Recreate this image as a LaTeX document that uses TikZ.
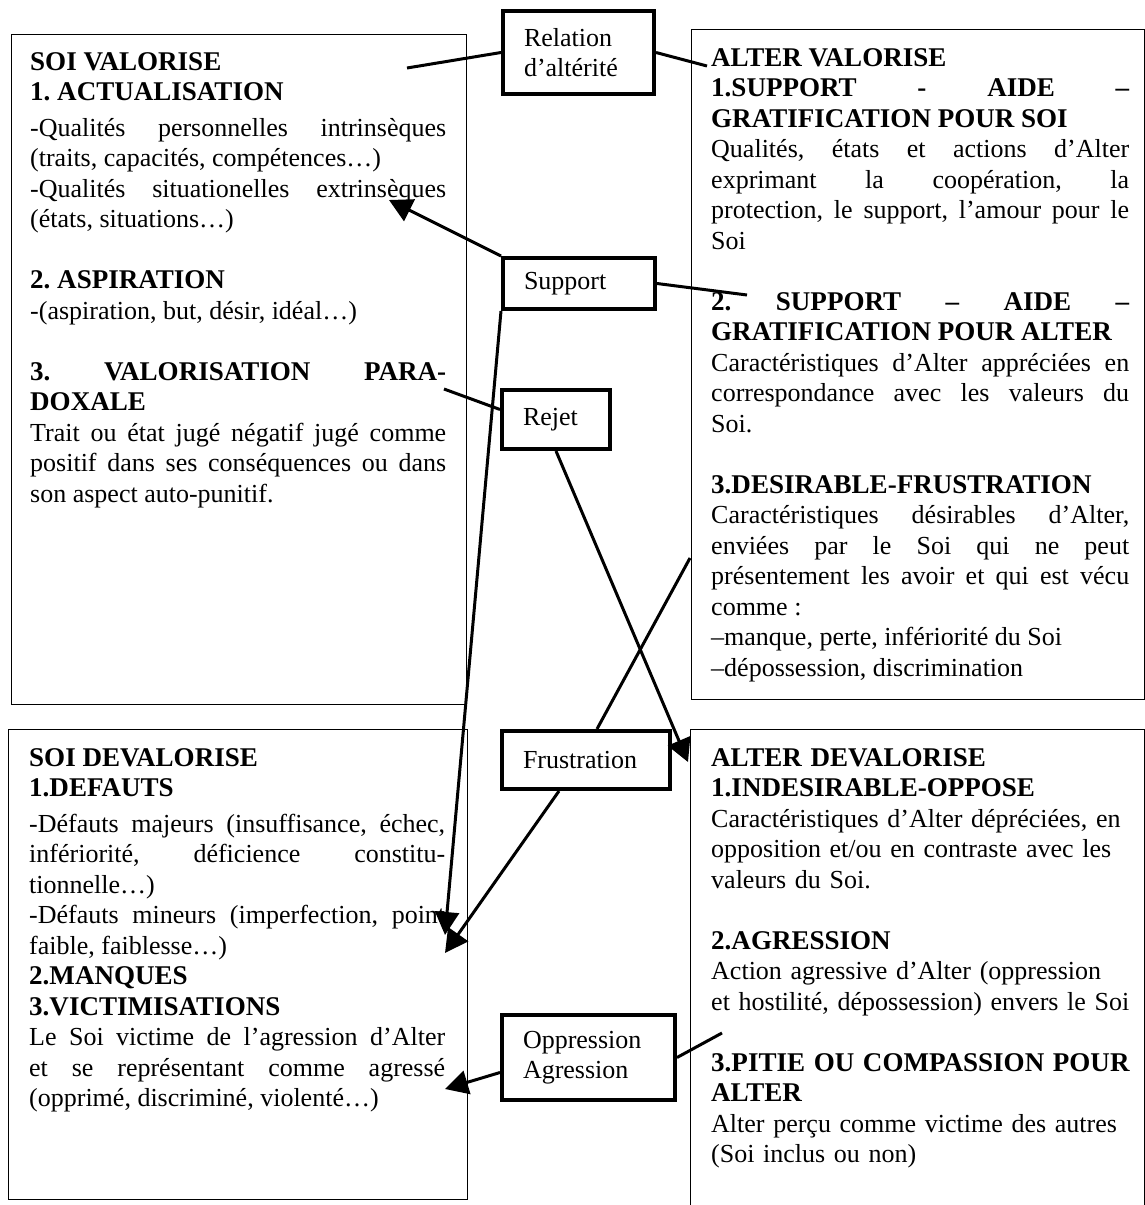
\documentclass[tikz,border=0pt]{standalone}
\usepackage{fontspec}
\setmainfont{Liberation Serif}[BoldFont={Liberation Serif Bold},BoldFeatures={Scale=1.04}]
\usepackage{tikz}
\usetikzlibrary{arrows.meta,calc}
\hyphenpenalty=10000
\exhyphenpenalty=10000
\tolerance=10000
\hbadness=10000
\frenchspacing

\begin{document}
\begin{tikzpicture}[x=1pt,y=-1pt,
  every node/.style={font=\fontsize{26}{30.5}\selectfont},
  frame/.style={draw,line width=1.3pt,inner sep=0pt,anchor=north west},
  txt/.style={anchor=base west,inner sep=0pt,align=justify},
  relbox/.style={draw,line width=4pt,anchor=north west,inner xsep=21pt,inner ysep=0pt,align=left},
  link/.style={line width=3pt},
  tip/.style={line width=3pt,-{Triangle[length=23pt,width=24pt]}}]
\useasboundingbox (0,0) rectangle (1144,1205);

\node[frame,minimum width=455pt,minimum height=670pt] (soival) at (11,34) {};
\node[frame,minimum width=453pt,minimum height=670pt] (altval) at (691,29) {};
\node[frame,minimum width=459pt,minimum height=470pt] (soidev) at (8,729) {};
\node[frame,minimum width=454pt,minimum height=500pt] (altdev) at (690,729) {};

\node[txt,text width=416pt] (soivaltxt) at (30,70) {%
\textbf{SOI VALORISE}\par
\textbf{1. ACTUALISATION}\par\vspace{5pt}
-Qualités personnelles intrinsèques\linebreak
(traits, capacités, compétences…)\par
-Qualités situationelles extrinsèques\linebreak
(états, situations…)\par
\vspace{\baselineskip}
\textbf{2. ASPIRATION}\par
-(aspiration, but, désir, idéal…)\par
\vspace{\baselineskip}
\textbf{3. VALORISATION PARA-}\linebreak
\textbf{DOXALE}\par
Trait ou état jugé négatif jugé comme\linebreak
positif dans ses conséquences ou dans\linebreak
son aspect auto-punitif.};

\node[txt,text width=418pt] (altvaltxt) at (711,66) {%
\textbf{ALTER VALORISE}\par
\textbf{1.SUPPORT - AIDE –}\linebreak
\textbf{GRATIFICATION POUR SOI}\par
Qualités, états et actions d’Alter\linebreak
exprimant la coopération, la\linebreak
protection, le support, l’amour pour le\linebreak
Soi\par
\vspace{\baselineskip}
\textbf{2. SUPPORT – AIDE –}\linebreak
\textbf{GRATIFICATION POUR ALTER}\par
Caractéristiques d’Alter appréciées en\linebreak
correspondance avec les valeurs du\linebreak
Soi.\par
\vspace{\baselineskip}
\textbf{3.DESIRABLE-FRUSTRATION}\par
Caractéristiques désirables d’Alter,\linebreak
enviées par le Soi qui ne peut\linebreak
présentement les avoir et qui est vécu\linebreak
comme~:\par
–manque, perte, infériorité du Soi\par
–dépossession, discrimination};

\node[txt,text width=416pt] (soidevtxt) at (29,766) {%
\textbf{SOI DEVALORISE}\par
\textbf{1.DEFAUTS}\par\vspace{5pt}
-Défauts majeurs (insuffisance, échec,\linebreak
infériorité, déficience constitu-\linebreak
tionnelle…)\par
-Défauts mineurs (imperfection, point\linebreak
faible, faiblesse…)\par
\textbf{2.MANQUES}\par
\textbf{3.VICTIMISATIONS}\par
Le Soi victime de l’agression d’Alter\linebreak
et se représentant comme agressé\linebreak
(opprimé, discriminé, violenté…)};

\node[txt,text width=430pt,align=left] (altdevtxt) at (711,766) {%
\textbf{ALTER DEVALORISE}\par
\textbf{1.INDESIRABLE-OPPOSE}\par
Caractéristiques d’Alter dépréciées, en\par
opposition et/ou en contraste avec les\par
valeurs du Soi.\par
\vspace{\baselineskip}
\textbf{2.AGRESSION}\par
Action agressive d’Alter (oppression\par
et hostilité, dépossession) envers le Soi\par
\vspace{\baselineskip}
\textbf{3.PITIE OU COMPASSION POUR}\par
\textbf{ALTER}\par
Alter perçu comme victime des autres\par
(Soi inclus ou non)};

\node[relbox,text width=109pt,minimum height=83pt] (rel) at (501,9) {Relation\\d’altérité};
\node[relbox,text width=110pt,minimum height=51pt] (sup) at (501,256) {Support};
\node[relbox,text width=66pt,minimum height=59pt] (rej) at (500,388) {Rejet};
\node[relbox,text width=126pt,minimum height=58pt] (fru) at (500,729) {Frustration};
\node[relbox,text width=131pt,minimum height=85pt] (opp) at (500,1013) {Oppression\\Agression};

\coordinate (relsoi) at (407,68);
\coordinate (relalter) at (707,66);
\coordinate (supsoi) at (389,200);
\coordinate (supalter) at (747,295);
\coordinate (supdef) at (445,935);
\coordinate (rejpara) at (444,389);
\coordinate (rejalter) at (688,762);
\coordinate (frualter) at (690,558);
\coordinate (frudef) at (445,953);
\coordinate (oppvict) at (445,1089);
\coordinate (oppagr) at (722,1033);

\draw[link] (rel.west) -- (relsoi);
\draw[link] (rel.east) -- (relalter);
\draw[tip] (sup.north west) -- (supsoi);
\draw[link] (sup.east) -- (supalter);
\draw[tip] (sup.south west) -- (supdef);
\draw[link] ($(rej.west)+(0,-10)$) -- (rejpara);
\draw[tip] (rej.south) -- (rejalter);
\draw[link] ($(fru.north)+(11,0)$) -- (frualter);
\draw[tip] ($(fru.south)+(-27,0)$) -- (frudef);
\draw[tip] ($(opp.west)+(0,15)$) -- (oppvict);
\draw[link] (opp.east) -- (oppagr);
\end{tikzpicture}
\end{document}
